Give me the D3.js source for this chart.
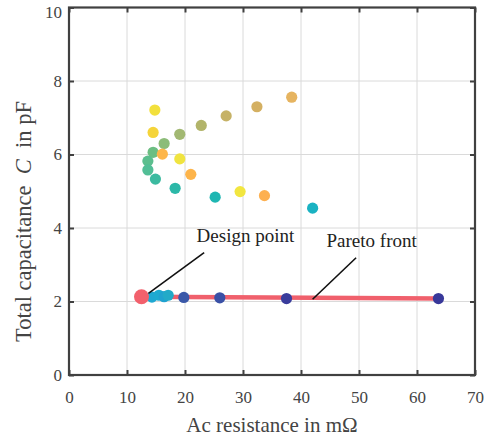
<!DOCTYPE html>
<html>
<head>
<meta charset="utf-8">
<script src="https://cdn.jsdelivr.net/npm/d3@7"></script>
<style>
  body { margin: 0; background: #fff; }
  text { font-family: "Liberation Serif", "Times New Roman", serif; }
</style>
</head>
<body>
<div class="chart"></div>
<script>
// design candidates (x: ac resistance mOhm, y: capacitance pF)
const candX = [14.8, 14.5, 16.4, 19.1, 22.8, 27.1, 32.4, 38.4, 14.5, 16.1,
               13.6, 19.1, 13.6, 21.0, 14.9, 18.3, 25.2, 29.5, 33.7, 42.0];
const candY = [7.21, 6.60, 6.30, 6.55, 6.79, 7.05, 7.30, 7.56, 6.06, 6.01,
               5.82, 5.88, 5.58, 5.46, 5.33, 5.08, 4.84, 4.99, 4.88, 4.54];
const candColor = ['#f2e03c', '#f5d43a', '#8cbc78', '#a2b872', '#b2b46a', '#c6b266', '#d4b062', '#e6b460', '#6cbe82', '#fdb64a',
                   '#5cbe8e', '#f0e440', '#52be96', '#fdb44a', '#3cbaa0', '#2cb8a8', '#1eb6b2', '#f2e640', '#fdb050', '#1ab2c2'];

// pareto optimal designs
const paretoX = [14.3, 15.5, 16.4, 17.1, 19.8, 26.0, 37.5, 63.7];
const paretoY = [2.12, 2.17, 2.13, 2.17, 2.11, 2.10, 2.08, 2.08];
const paretoColor = ['#1ea8d2', '#1eaad0', '#20a2d0', '#22aac8', '#3a58a8', '#3a50a6', '#3a3c9c', '#38389a'];

// front line and design point
const frontX = [12.5, 63.7];
const frontY = [2.13, 2.08];
const designPoint = [12.5, 2.13];

const xTicks = [0, 10, 20, 30, 40, 50, 60, 70];
const yTicks = [0, 2, 4, 6, 8, 10];

const W = 491, H = 437;
const pLeft = 69, pRight = 475, pTop = 7.5, pBottom = 375;
const serif = '"Liberation Serif", "Times New Roman", serif';

const svg = d3.select('.chart')
  .append('svg')
  .attr('width', W)
  .attr('height', H);

const x = d3.scaleLinear().domain([0, 70]).range([pLeft, pRight]);
const y = d3.scaleLinear().domain([0, 10]).range([pBottom, pTop]);

// grid
svg.append('g').selectAll('line').data(xTicks.slice(1, -1)).join('line')
  .attr('x1', d => x(d)).attr('x2', d => x(d))
  .attr('y1', pTop).attr('y2', pBottom)
  .style('stroke', '#dadada').style('stroke-width', 1);
svg.append('g').selectAll('line').data(yTicks.slice(1, -1)).join('line')
  .attr('y1', d => y(d)).attr('y2', d => y(d))
  .attr('x1', pLeft).attr('x2', pRight)
  .style('stroke', '#dadada').style('stroke-width', 1);

// axes: ticks inward on all four sides
const axisColor = '#404040';
const xb = svg.append('g').attr('transform', `translate(0,${pBottom})`)
  .call(d3.axisBottom(x).tickValues(xTicks).tickSize(-5).tickPadding(16).tickFormat(d3.format('d')));
const xt = svg.append('g').attr('transform', `translate(0,${pTop})`)
  .call(d3.axisTop(x).tickValues(xTicks).tickSize(-5).tickFormat(''));
const yl = svg.append('g').attr('transform', `translate(${pLeft},0)`)
  .call(d3.axisLeft(y).tickValues(yTicks).tickSize(-5).tickPadding(7).tickFormat(d3.format('d')));
const yr = svg.append('g').attr('transform', `translate(${pRight},0)`)
  .call(d3.axisRight(y).tickValues(yTicks).tickSize(-5).tickFormat(''));

[xb, xt, yl, yr].forEach(g => {
  g.attr('font-family', serif).attr('font-size', 17);
  g.select('.domain').remove();
  g.selectAll('line').style('stroke', axisColor).style('stroke-width', 2);
  g.selectAll('text').style('fill', '#444');
});
// top label sits a little lower, as in the source figure
yl.selectAll('.tick text').filter(d => d === 10).attr('dy', '0.6em');

svg.append('rect')
  .attr('x', pLeft).attr('y', pTop)
  .attr('width', pRight - pLeft).attr('height', pBottom - pTop)
  .style('fill', 'none').style('stroke', axisColor).style('stroke-width', 2.2);

// candidates
svg.append('g').selectAll('circle').data(candX).join('circle')
  .attr('cx', d => x(d))
  .attr('cy', (d, i) => y(candY[i]))
  .attr('r', 5.6)
  .style('fill', (d, i) => candColor[i]);

// pareto front line
const line = d3.line().x(d => x(d[0])).y(d => y(d[1]));
svg.append('path')
  .datum(d3.zip(frontX, frontY))
  .attr('d', line)
  .style('fill', 'none')
  .style('stroke', '#f0606c')
  .style('stroke-width', 4.5);

svg.append('g').selectAll('circle').data(paretoX).join('circle')
  .attr('cx', d => x(d))
  .attr('cy', (d, i) => y(paretoY[i]))
  .attr('r', 5.6)
  .style('fill', (d, i) => paretoColor[i]);

svg.append('circle')
  .attr('cx', x(designPoint[0]))
  .attr('cy', y(designPoint[1]))
  .attr('r', 7.5)
  .style('fill', '#f2606c');

// annotations
svg.append('line')
  .attr('x1', x(23.3)).attr('y1', y(3.33))
  .attr('x2', x(13.7)).attr('y2', y(2.22))
  .style('stroke', '#111').style('stroke-width', 1.6);
svg.append('text')
  .attr('x', x(22.0)).attr('y', y(3.63))
  .attr('font-family', serif)
  .style('font-size', '19px').style('fill', '#222')
  .text('Design point');

svg.append('line')
  .attr('x1', x(49.5)).attr('y1', y(3.19))
  .attr('x2', x(42.0)).attr('y2', y(2.06))
  .style('stroke', '#111').style('stroke-width', 1.6);
svg.append('text')
  .attr('x', x(44.4)).attr('y', y(3.48))
  .attr('font-family', serif)
  .style('font-size', '19px').style('fill', '#222')
  .text('Pareto front');

// axis titles
svg.append('text')
  .attr('x', (pLeft + pRight) / 2)
  .attr('y', 431.5)
  .attr('text-anchor', 'middle')
  .attr('font-family', serif)
  .style('font-size', '21px').style('fill', '#444')
  .text('Ac resistance in m\u03A9');

const yt = svg.append('text')
  .attr('transform', 'translate(31,221.5) rotate(-90)')
  .attr('text-anchor', 'middle')
  .attr('font-family', serif)
  .style('font-size', '22.5px').style('fill', '#444');
yt.append('tspan').text('Total capacitance\u00A0\u00A0');
yt.append('tspan').style('font-style', 'italic').text('C');
yt.append('tspan').text('\u00A0\u00A0in pF');
</script>
</body>
</html>
